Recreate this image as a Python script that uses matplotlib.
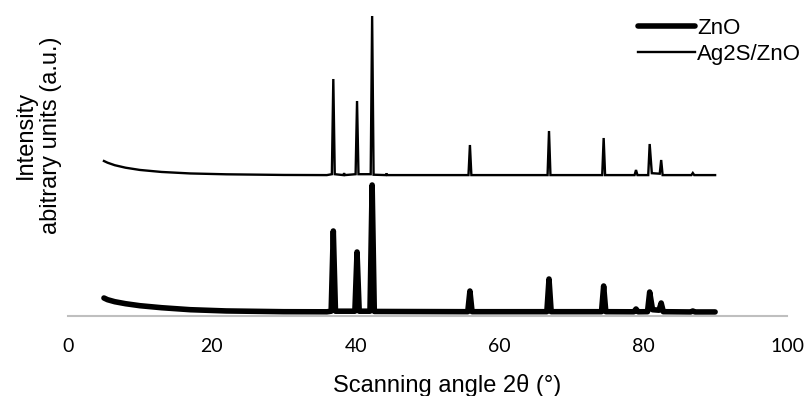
import numpy as np
import matplotlib
matplotlib.use("Agg")
import matplotlib.pyplot as plt

# XRD patterns (intensity in a.u.)
zno_angle = [5.0, 5.5, 6.5, 8.0, 10.0, 13.0, 17.0, 22.0, 30.0, 36.0,
             36.6, 36.9, 37.2, 39.9, 40.2, 40.5, 42.0, 42.3, 42.6,
             55.6, 55.9, 56.2, 66.6, 66.9, 67.2, 74.2, 74.5, 74.8,
             78.7, 79.0, 79.3, 80.6, 80.9, 81.3, 82.2, 82.5, 82.8,
             86.6, 86.9, 87.2, 90.0]
zno_int = [354, 320, 280, 240, 200, 160, 120, 95, 80, 78,
           90, 1694, 90, 90, 1274, 90, 90, 2614, 85,
           80, 494, 80, 80, 734, 80, 80, 594, 80,
           78, 134, 78, 80, 474, 120, 110, 254, 80,
           75, 94, 75, 75]

ag2s_angle = [5.0, 5.5, 6.5, 8.0, 10.0, 13.0, 17.0, 22.0, 30.0, 36.0,
              36.7, 36.9, 37.1, 38.3, 38.4, 38.5, 40.0, 40.2, 40.4,
              42.1, 42.3, 42.5, 44.2, 44.3, 44.4,
              55.7, 55.9, 56.1, 66.7, 66.9, 67.1, 74.3, 74.5, 74.7,
              78.8, 79.0, 79.2, 80.7, 80.9, 81.2, 82.3, 82.5, 82.7,
              86.7, 86.9, 87.1, 90.0]
ag2s_int = [3094, 3060, 3010, 2960, 2915, 2875, 2845, 2828, 2815, 2812,
            2830, 4734, 2830, 2812, 2850, 2812, 2830, 4294, 2830,
            2830, 5994, 2820, 2812, 2845, 2812,
            2812, 3414, 2812, 2812, 3694, 2812, 2812, 3554, 2812,
            2812, 2914, 2812, 2812, 3434, 2850, 2840, 3114, 2812,
            2812, 2854, 2812, 2812]

x_ticks = [0, 20, 40, 60, 80, 100]

fig = plt.figure(figsize=(8.08, 3.96), dpi=100)
ax = fig.add_axes([68 / 808, 80.3 / 396, 719 / 808, 310 / 396])

ax.plot(zno_angle, zno_int, color='black', lw=4, label='ZnO',
        solid_joinstyle='round', solid_capstyle='round')
ax.plot(ag2s_angle, ag2s_int, color='black', lw=1.7, label='Ag2S/ZnO',
        solid_joinstyle='miter')

ax.set_xlim(0, 100)
ax.set_ylim(0, 6200)
ax.set_xticks(x_ticks)
ax.set_xticklabels([str(t) for t in x_ticks], fontfamily='Lato', fontsize=14)
ax.set_yticks([])
ax.tick_params(axis='x', length=0, pad=16)
for s in ['top', 'right', 'left']:
    ax.spines[s].set_visible(False)
ax.spines['bottom'].set_color('#bfbfbf')
ax.spines['bottom'].set_linewidth(1.5)

# axis titles
fig.text(447 / 808, 1 - 392 / 396, 'Scanning angle 2θ (°)', ha='center',
         va='baseline', fontfamily='Liberation Sans', fontsize=17)
fig.text(32 / 808, 1 - 135 / 396, 'Intensity', rotation=90,
         rotation_mode='anchor', ha='center', va='baseline',
         fontfamily='Liberation Sans', fontsize=17)
fig.text(57 / 808, 1 - 135 / 396, 'abitrary units (a.u.)', rotation=90,
         rotation_mode='anchor', ha='center', va='baseline',
         fontfamily='Liberation Sans', fontsize=17)

leg = fig.legend(loc='upper left', bbox_to_anchor=(638 / 808, 1 - 18 / 396),
                 frameon=False, handlelength=2.57, handletextpad=0.1,
                 labelspacing=0.21, borderpad=0, borderaxespad=0,
                 prop={'family': 'Liberation Sans', 'size': 16})

fig.savefig('out.png', dpi=100)
